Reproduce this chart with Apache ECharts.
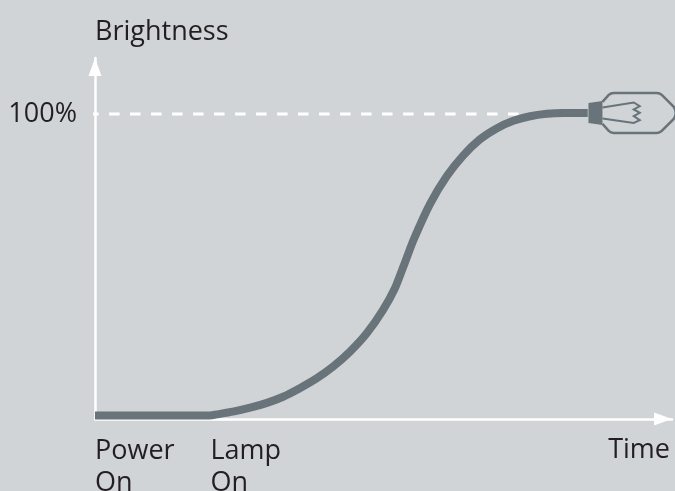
<!DOCTYPE html>
<html>
<head>
<meta charset="utf-8">
<style>
  html, body { margin: 0; padding: 0; background: #d1d4d7; overflow: hidden; }
  #chart { width: 675px; height: 491px; }
</style>
<script src="https://cdn.jsdelivr.net/npm/echarts@6/dist/echarts.min.js"></script>
</head>
<body>
<div id="chart"></div>
<script>
// brightness curve, time in % of the axis, brightness in %
const curveTime = [0, 19.9, 21.1, 23.9, 26.9, 29.8, 32.6, 35.5, 38.4, 41.25, 44.2, 47.1, 49.9, 52, 53.55, 55.2, 58.05, 60.95, 63.8, 66.7, 69.6, 72.5, 75.4, 78.3, 81.1, 85.4];
const curveBrightness = [1.15, 1.15, 1.5, 2.4, 3.7, 5.3, 7.3, 10.1, 13.3, 17.15, 22.1, 28.1, 35.7, 42.95, 50.5, 58.7, 70.5, 79.6, 86.4, 91.7, 95.3, 97.8, 99.3, 100.1, 100.4, 100.4];

const dashStart = -1.2;
const fullTime = 85.4;
const fullBrightness = 100;
const bulbBrightness = 100.4;
const timeTicks = [0, 20];
const timeTickLabels = ['Power\nOn', 'Lamp\nOn'];
const brightnessTicks = [100];
const brightnessTickLabels = ['100%'];

const textColor = '#231f20';
const lineColor = '#68737a';

// bulb is drawn around the end of the curve, offsets in px
const renderBulb = (params, api) => {
  const p = api.coord([api.value(0), api.value(1)]);
  return {
    type: 'group',
    x: p[0],
    y: p[1],
    children: [
      {
        type: 'polygon',
        shape: { points: [[0.7, -10], [14.7, -12], [14.7, 12], [0.7, 10]] },
        style: { fill: lineColor }
      },
      {
        type: 'path',
        shape: {
          pathData: 'M14.7 -11 L21 -18 Q23 -20 26 -20 L69 -20 Q72 -20 74 -18 L86 -6 Q90 0 86 6 L74 18 Q72 20 69 20 L26 20 Q23 20 21 18 L14.7 11'
        },
        style: { fill: 'none', stroke: lineColor, lineWidth: 2.5 }
      },
      {
        type: 'polyline',
        shape: { points: [[14.7, -5.4], [46, -10.4], [52, -6.7], [46, -3.4], [52, -0.1], [46, 3.3], [52, 7.3], [46, 10], [14.7, 5.6]] },
        style: { fill: 'none', stroke: lineColor, lineWidth: 2 }
      }
    ]
  };
};

const myChart = echarts.init(document.getElementById('chart'), null, { renderer: 'canvas' });

myChart.setOption({
  animation: false,
  backgroundColor: '#d1d4d7',
  textStyle: { fontFamily: 'Open Sans' },
  grid: { left: 95, right: 3, top: 58, bottom: 72, outerBoundsMode: 'none' },
  xAxis: {
    type: 'value',
    min: 0,
    max: 100,
    name: 'Time',
    nameLocation: 'end',
    nameGap: -2,
    nameTextStyle: {
      color: textColor,
      fontSize: 27,
      align: 'right',
      verticalAlign: 'top',
      padding: [18, 0, 0, 0]
    },
    splitLine: { show: false },
    axisTick: { show: false },
    axisLine: {
      symbol: ['none', 'triangle'],
      symbolSize: [13, 18],
      symbolOffset: [0, -9],
      lineStyle: { color: '#fff', width: 2.5 }
    },
    axisLabel: {
      customValues: timeTicks,
      formatter: (v) => timeTickLabels[timeTicks.indexOf(v)],
      color: textColor,
      fontSize: 27,
      lineHeight: 32,
      align: 'left',
      verticalAlign: 'top',
      margin: 16,
      hideOverlap: false
    }
  },
  yAxis: {
    type: 'value',
    min: 0,
    max: 118.4,
    name: 'Brightness',
    nameLocation: 'end',
    nameGap: 12,
    nameTextStyle: { color: textColor, fontSize: 27, align: 'left' },
    splitLine: { show: false },
    axisTick: { show: false },
    axisLine: {
      symbol: ['none', 'triangle'],
      symbolSize: [13, 18],
      symbolOffset: [0, -9],
      lineStyle: { color: '#fff', width: 2.5 }
    },
    axisLabel: {
      customValues: brightnessTicks,
      formatter: (v) => brightnessTickLabels[brightnessTicks.indexOf(v)],
      color: textColor,
      fontSize: 27,
      margin: 18
    }
  },
  series: [
    {
      name: 'full brightness',
      type: 'line',
      symbol: 'none',
      clip: false,
      lineStyle: { color: '#fff', width: 3, type: [10.5, 10.5] },
      data: [[dashStart, fullBrightness], [fullTime, fullBrightness]],
      z: 2
    },
    {
      name: 'brightness',
      type: 'line',
      symbol: 'none',
      smooth: 0.2,
      lineStyle: { color: lineColor, width: 8, cap: 'butt' },
      data: curveTime.map((t, i) => [t, curveBrightness[i]]),
      z: 3
    },
    {
      name: 'bulb',
      type: 'custom',
      clip: false,
      renderItem: renderBulb,
      data: [[fullTime, bulbBrightness]],
      z: 4
    }
  ]
});
</script>
</body>
</html>
